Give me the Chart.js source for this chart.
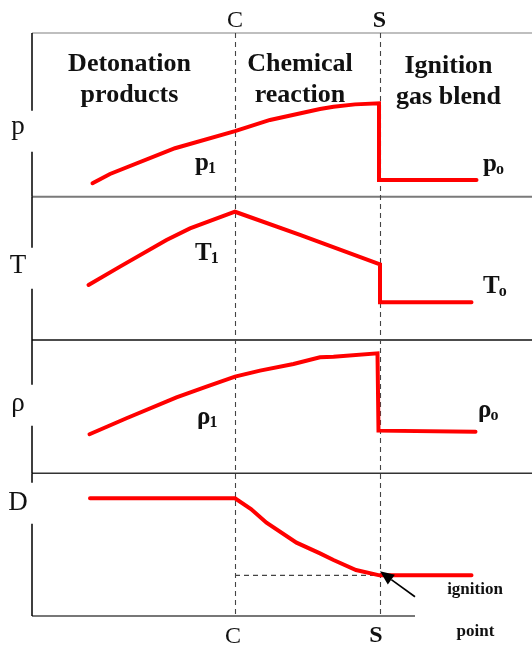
<!DOCTYPE html>
<html>
<head>
<meta charset="utf-8">
<script src="https://cdn.jsdelivr.net/npm/chart.js@4/dist/chart.umd.min.js"></script>
<style>
  html, body { margin: 0; padding: 0; background: #ffffff; }
  #wrap { width: 532px; height: 646px; }
</style>
</head>
<body>
<div id="wrap"><canvas id="chart" width="532" height="646"></canvas></div>
<script>
// ---------------- data ----------------
const regionLabels = [['Detonation', 'products'], ['Chemical', 'reaction'], ['Ignition', 'gas blend']];
const panelSymbols = ['p', 'T', 'ρ', 'D'];
const sectionMarks = ['C', 'S'];
const markPositions = [40.6, 69.5];          // position of C and S along the tube

const pressureX    = [12.1, 15.6, 28.6, 40.6, 47.6, 57.6, 60.3, 64.6, 69.4, 69.4, 88.9];
const pressureY    = [8.2, 13.9, 29.6, 40.1, 46.9, 53.6, 55.0, 56.4, 57.1, 10.2, 10.2];
const temperatureX = [11.3, 17.6, 26.9, 31.6, 40.6, 53.6, 69.6, 69.6, 87.9];
const temperatureY = [38.4, 51.2, 69.8, 77.9, 89.5, 73.3, 52.8, 26.3, 26.3];
const densityX     = [11.5, 18.9, 28.9, 34.9, 40.6, 45.6, 52.3, 57.6, 60.3, 69.1, 69.3, 88.7];
const densityY     = [29.3, 41.3, 57.0, 65.0, 72.5, 77.0, 82.0, 87.0, 87.5, 90.0, 32.0, 31.2];
const velocityX    = [11.6, 40.6, 43.8, 46.9, 52.9, 57.6, 60.3, 64.8, 69.5, 87.9];
const velocityY    = [82.5, 82.5, 75.0, 65.4, 51.4, 43.9, 39.2, 32.2, 28.5, 28.5];
const ignitionLevel = 28.5;

const stateLabels = [
  { main: 'p', sub: '1', axis: 'yP', x: 32.6, y: 16.3 },
  { main: 'p', sub: 'o', axis: 'yP', x: 90.2, y: 15.4 },
  { main: 'T', sub: '1', axis: 'yT', x: 32.6, y: 55.8 },
  { main: 'T', sub: 'o', axis: 'yT', x: 90.2, y: 32.8 },
  { main: 'ρ', sub: '1', axis: 'yR', x: 33.0, y: 37.0 },
  { main: 'ρ', sub: 'o', axis: 'yR', x: 89.2, y: 42.5 }
];

// ---------------- chart ----------------
const RED = '#ff0000';
const SERIF = '"Liberation Serif", "Times New Roman", serif';
const toPts = (xs, ys) => xs.map((x, i) => ({ x: x, y: ys[i] }));
function curve(label, xs, ys, axis) {
  return {
    label: label, data: toPts(xs, ys), yAxisID: axis,
    borderColor: RED, borderWidth: 4, pointRadius: 0, tension: 0, fill: false,
    borderJoinStyle: 'miter', borderCapStyle: 'round', order: 0
  };
}

const panelAxes = ['yP', 'yT', 'yR', 'yD'];
const panelWeights = [163.7, 143.3, 133.3, 142.7];
const panelLabelFrac = [0.40, 0.50, 0.51, 0.79];
const panelLabelBaseline = [134, 273, 411, 510];

function panelScale(i) {
  return {
    type: 'linear', min: 0, max: 100, position: 'left', stack: 'panels',
    stackWeight: panelWeights[i], weight: 4 - i, display: false,
    grid: { display: false, drawTicks: false }, ticks: { display: false }, border: { display: false }
  };
}

const framePlugin = {
  id: 'frame',
  beforeDatasetsDraw(chart) {
    const { ctx, chartArea: a, scales } = chart;
    const xs = scales.x;
    const ps = panelAxes.map(id => scales[id]);
    ctx.save();
    // panel separators
    const seps = [
      [ps[0].top, '#808080', 1.2, a.right],
      [ps[1].top, '#7a7a7a', 2, a.right],
      [ps[2].top, '#111111', 1.5, a.right],
      [ps[3].top, '#333333', 1.5, a.right],
      [ps[3].bottom, '#777777', 2, xs.getPixelForValue(76.6)]
    ];
    seps.forEach(([y, c, w, r]) => {
      ctx.strokeStyle = c; ctx.lineWidth = w;
      ctx.beginPath(); ctx.moveTo(a.left, y); ctx.lineTo(r, y); ctx.stroke();
    });
    // left axis with gaps for panel symbols
    ctx.strokeStyle = '#000'; ctx.lineWidth = 1.5;
    ps.forEach((s, i) => {
      const cy = s.bottom - (s.bottom - s.top) * panelLabelFrac[i];
      ctx.beginPath();
      ctx.moveTo(a.left, s.top); ctx.lineTo(a.left, cy - 20.5);
      ctx.moveTo(a.left, cy + 20.5); ctx.lineTo(a.left, s.bottom);
      ctx.stroke();
    });
    // dashed section lines C and S
    ctx.strokeStyle = '#444'; ctx.lineWidth = 1.1; ctx.setLineDash([5, 4]);
    markPositions.forEach(m => {
      const px = Math.round(xs.getPixelForValue(m)) + 0.5;
      ctx.beginPath(); ctx.moveTo(px, a.top); ctx.lineTo(px, a.bottom); ctx.stroke();
    });
    ctx.restore();
  },
  afterDatasetsDraw(chart) {
    const { ctx, chartArea: a, scales } = chart;
    const xs = scales.x;
    const ps = panelAxes.map(id => scales[id]);
    ctx.save();
    ctx.fillStyle = '#111';
    // panel symbols
    ctx.font = '27px ' + SERIF; ctx.textAlign = 'center'; ctx.textBaseline = 'alphabetic';
    panelSymbols.forEach((t, i) => ctx.fillText(t, 18, panelLabelBaseline[i]));
    // section marks top and bottom
    const cx = xs.getPixelForValue(markPositions[0]);
    const sx = xs.getPixelForValue(markPositions[1]);
    ctx.font = '24px ' + SERIF;
    ctx.fillText(sectionMarks[0], cx, 27);
    ctx.fillText(sectionMarks[0], cx - 2, 643);
    ctx.font = 'bold 24px ' + SERIF;
    ctx.fillText(sectionMarks[1], sx, 27);
    ctx.fillText(sectionMarks[1], sx - 3.5, 642);
    // region titles
    ctx.font = 'bold 26px ' + SERIF;
    const rx = [19.5, 53.6, 83.3];
    const rb = [[71, 102], [71, 102], [73, 104]];
    regionLabels.forEach((lines, i) => {
      lines.forEach((ln, j) => ctx.fillText(ln, xs.getPixelForValue(rx[i]), rb[i][j]));
    });
    // state labels with subscripts
    ctx.textAlign = 'left';
    stateLabels.forEach(l => {
      const px = xs.getPixelForValue(l.x);
      const py = scales[l.axis].getPixelForValue(l.y);
      ctx.font = 'bold 25px ' + SERIF;
      ctx.fillText(l.main, px, py);
      const w = ctx.measureText(l.main).width;
      ctx.font = 'bold 16px ' + SERIF;
      ctx.fillText(l.sub, px + w - 1, py + 3);
    });
    // ignition point note and arrow
    ctx.textAlign = 'center';
    ctx.font = 'bold 17px ' + SERIF;
    ctx.fillText('ignition', 475, 594);
    ctx.fillText('point', 475.5, 636);
    const yD = ps[3];
    const tipX = xs.getPixelForValue(markPositions[1]) + 0.5;
    const tipY = yD.getPixelForValue(ignitionLevel) - 4;
    const tailX = xs.getPixelForValue(76.6);
    const tailY = yD.getPixelForValue(13.5);
    const ang = Math.atan2(tipY - tailY, tipX - tailX);
    const hl = 14, hw = 6;
    const bx = tipX - hl * Math.cos(ang), by = tipY - hl * Math.sin(ang);
    ctx.strokeStyle = '#000'; ctx.lineWidth = 1.6;
    ctx.beginPath(); ctx.moveTo(tailX, tailY); ctx.lineTo(bx, by); ctx.stroke();
    ctx.fillStyle = '#000';
    ctx.beginPath();
    ctx.moveTo(tipX, tipY);
    ctx.lineTo(bx + hw * Math.sin(ang), by - hw * Math.cos(ang));
    ctx.lineTo(bx - hw * Math.sin(ang), by + hw * Math.cos(ang));
    ctx.closePath(); ctx.fill();
    ctx.restore();
  }
};

const scales = {
  x: { type: 'linear', min: 0, max: 100, display: false,
       grid: { display: false, drawTicks: false }, ticks: { display: false } }
};
panelAxes.forEach((id, i) => { scales[id] = panelScale(i); });

new Chart(document.getElementById('chart'), {
  type: 'line',
  data: {
    datasets: [
      curve('p', pressureX, pressureY, 'yP'),
      curve('T', temperatureX, temperatureY, 'yT'),
      curve('ρ', densityX, densityY, 'yR'),
      curve('D', velocityX, velocityY, 'yD'),
      {
        label: 'ignition level',
        data: [{ x: markPositions[0], y: ignitionLevel }, { x: markPositions[1], y: ignitionLevel }],
        yAxisID: 'yD', borderColor: '#444', borderWidth: 1.1, borderDash: [5, 4],
        pointRadius: 0, tension: 0, fill: false, order: 5
      }
    ]
  },
  options: {
    responsive: false,
    animation: false,
    layout: { padding: { left: 32, right: 0, top: 33, bottom: 30 } },
    plugins: { legend: { display: false }, tooltip: { enabled: false }, title: { display: false } },
    scales: scales
  },
  plugins: [framePlugin]
});
</script>
</body>
</html>
